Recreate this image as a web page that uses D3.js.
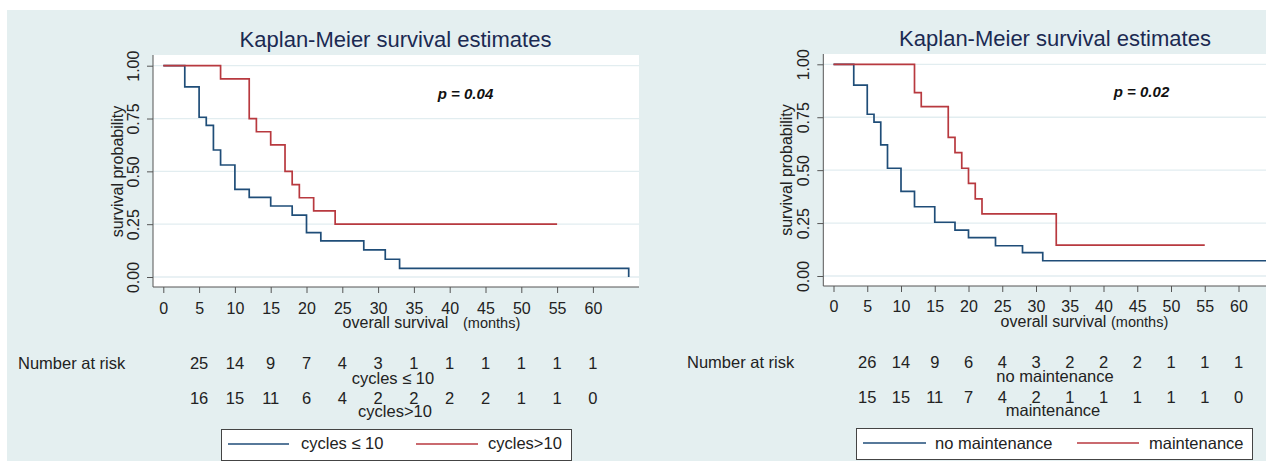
<!DOCTYPE html>
<html lang='en'>
<head>
	<meta charset='utf-8'>
	<script type='text/javascript' src='https://d3js.org/d3.v7.min.js'></script>
	<style type='text/css'>
		body{
			margin:0;
			background:#fff;
		}
		svg text{
			font-family:"Liberation Sans", Arial, sans-serif;
			fill:#222;
		}
		.title{
			font-size:22px;
			fill:#1b2a52 !important;
		}
		.axis-title{
			font-size:16px;
		}
		.tick-label{
			font-size:16px;
		}
		.risk{
			font-size:16.5px;
		}
		.pval{
			font-size:15px;
			font-weight:bold;
			font-style:italic;
			fill:#111 !important;
		}
	</style>
</head>
<body>
	<div id='chart'></div>

	<script type='text/javascript'>
		//axis ticks
		var xTicks = [0, 5, 10, 15, 20, 25, 30, 35, 40, 45, 50, 55, 60];
		var yTicks = [0, 0.25, 0.5, 0.75, 1];

		//left plot: cycles <= 10 / cycles > 10
		var lowCyclesTime = [0, 3, 5, 6, 7, 8, 10, 12, 15, 18, 20, 22, 28, 31, 33, 65];
		var lowCyclesSurv = [1, 0.90, 0.756, 0.718, 0.601, 0.530, 0.415, 0.377, 0.336, 0.293, 0.210, 0.171, 0.128, 0.084, 0.041, 0];
		var highCyclesTime = [0, 8, 12, 13, 15, 17, 18, 19, 21, 24, 55];
		var highCyclesSurv = [1, 0.9375, 0.75, 0.6875, 0.625, 0.5, 0.4375, 0.375, 0.3125, 0.25, 0.25];

		//right plot: no maintenance / maintenance
		var noMaintTime = [0, 3, 5, 6, 7, 8, 10, 12, 15, 18, 20, 24, 28, 31, 65];
		var noMaintSurv = [1, 0.902, 0.764, 0.727, 0.619, 0.509, 0.400, 0.327, 0.254, 0.217, 0.181, 0.143, 0.110, 0.072, 0.072];
		var maintTime = [0, 12, 13, 17, 18, 19, 20, 21, 22, 33, 55];
		var maintSurv = [1, 0.866, 0.800, 0.655, 0.583, 0.509, 0.438, 0.364, 0.293, 0.146, 0.146];

		//number at risk
		var riskTimes = [5, 10, 15, 20, 25, 30, 35, 40, 45, 50, 55, 60];
		var riskLowCycles = [25, 14, 9, 7, 4, 3, 1, 1, 1, 1, 1, 1];
		var riskHighCycles = [16, 15, 11, 6, 4, 2, 2, 2, 2, 1, 1, 0];
		var riskNoMaint = [26, 14, 9, 6, 4, 3, 2, 2, 2, 1, 1, 1];
		var riskMaint = [15, 15, 11, 7, 4, 2, 1, 1, 1, 1, 1, 0];

		var width = 1266,
			height = 461;

		var blue = '#1f4d78',
			red = '#b8393f';

		var svg = d3.select('#chart')
			.append('svg')
			.attr('width', width)
			.attr('height', height);

		//graph region background
		svg.append('rect')
			.attr('x', 7).attr('y', 10)
			.attr('width', width - 7).attr('height', height - 10)
			.style('fill', '#e4eff0');

		var panels = [
			{
				plot: [153, 55, 639, 287],
				xRange: [163.3, 592.9], yRange: [277, 65.7],
				titleX: 395.5, titleY: 47,
				yLabX: 117, yLabY: 171.5, yTickX: 133.3,
				xTickY: 308.3,
				xTitleX: 395.5, xTitleY: 328, monthsX: 463,
				pX: 465.5, pY: 98.5, pText: 'p = 0.04',
				riskLabX: 18, row1Y: 369.3, lab1Y: 384.3, lab1X: 393, row2Y: 404, lab2Y: 417.3, lab2X: 395,
				box: [221, 429, 571, 460], legY: 444, legTextY: 448.5,
				leg1: [228, 289, 301], leg2: [416, 478, 488],
				names: ['cycles \u2264 10', 'cycles>10'],
				series: [[lowCyclesTime, lowCyclesSurv], [highCyclesTime, highCyclesSurv]],
				risk: [riskLowCycles, riskHighCycles]
			},
			{
				plot: [823.3, 54, 1270, 286],
				xRange: [833.5, 1238.5], yRange: [276, 64.3],
				titleX: 1055, titleY: 46,
				yLabX: 786.7, yLabY: 170, yTickX: 803.3,
				xTickY: 306.7,
				xTitleX: 1053.5, xTitleY: 326.7, monthsX: 1111,
				pX: 1141.5, pY: 96.7, pText: 'p = 0.02',
				riskLabX: 687, row1Y: 367.7, lab1Y: 381.7, lab1X: 1055, row2Y: 403.3, lab2Y: 416, lab2X: 1053,
				box: [856, 428, 1252, 459], legY: 443, legTextY: 448.5,
				leg1: [863, 926, 935], leg2: [1077, 1139, 1149],
				names: ['no maintenance', 'maintenance'],
				series: [[noMaintTime, noMaintSurv], [maintTime, maintSurv]],
				risk: [riskNoMaint, riskMaint]
			}
		];

		panels.forEach(function(p){
			var x = d3.scaleLinear().domain([0, 60]).range(p.xRange);
			var y = d3.scaleLinear().domain([0, 1]).range(p.yRange);
			var g = svg.append('g');

			//title
			g.append('text')
				.attr('class', 'title')
				.attr('x', p.titleX).attr('y', p.titleY)
				.attr('text-anchor', 'middle')
				.text('Kaplan-Meier survival estimates');

			//plot region
			g.append('rect')
				.attr('x', p.plot[0]).attr('y', p.plot[1])
				.attr('width', p.plot[2] - p.plot[0]).attr('height', p.plot[3] - p.plot[1])
				.style('fill', '#fff');

			//grid
			g.selectAll('.grid')
				.data(yTicks)
				.enter()
				.append('line')
				.attr('x1', p.plot[0]).attr('x2', p.plot[2])
				.attr('y1', function(d){ return y(d); })
				.attr('y2', function(d){ return y(d); })
				.style('stroke', '#e2edf0')
				.style('stroke-width', 1.3);

			//curves
			var line = d3.line()
				.x(function(d){ return x(d[0]); })
				.y(function(d){ return y(d[1]); })
				.curve(d3.curveStepAfter);
			p.series.forEach(function(s, i){
				g.append('path')
					.datum(d3.zip(s[0], s[1]))
					.attr('d', line)
					.style('fill', 'none')
					.style('stroke', i == 0 ? blue : red)
					.style('stroke-width', 1.7);
			});

			//x axis
			var xAxis = g.append('g')
				.attr('transform', 'translate(0,' + p.plot[3] + ')')
				.call(d3.axisBottom(x).tickValues(xTicks).tickSize(6).tickSizeOuter(0).tickPadding(9));
			xAxis.select('.domain').remove();
			xAxis.selectAll('line').style('stroke', '#555');
			xAxis.selectAll('text')
				.attr('class', 'tick-label')
				.attr('y', p.xTickY - p.plot[3])
				.attr('dy', '0.35em');
			xAxis.attr('font-size', null).attr('font-family', null);
			g.append('line')
				.attr('x1', p.plot[0]).attr('x2', p.plot[2])
				.attr('y1', p.plot[3]).attr('y2', p.plot[3])
				.style('stroke', '#555');

			//y axis
			var yAxis = g.append('g')
				.attr('transform', 'translate(' + p.plot[0] + ',0)')
				.call(d3.axisLeft(y).tickValues(yTicks).tickSize(6).tickSizeOuter(0).tickFormat(d3.format('.2f')));
			yAxis.select('.domain').remove();
			yAxis.selectAll('line').style('stroke', '#555');
			yAxis.attr('font-size', null).attr('font-family', null);
			yAxis.selectAll('text')
				.attr('class', 'tick-label')
				.attr('x', null)
				.attr('dy', '0.35em')
				.attr('text-anchor', 'middle')
				.attr('transform', 'translate(' + (p.yTickX - p.plot[0]) + ',0) rotate(-90)');
			g.append('line')
				.attr('x1', p.plot[0]).attr('x2', p.plot[0])
				.attr('y1', p.plot[1]).attr('y2', p.plot[3])
				.style('stroke', '#555');

			//axis titles
			g.append('text')
				.attr('class', 'axis-title')
				.attr('text-anchor', 'middle')
				.attr('dy', '0.35em')
				.attr('transform', 'translate(' + p.yLabX + ',' + p.yLabY + ') rotate(-90)')
				.text('survival probability');
			g.append('text')
				.attr('class', 'axis-title')
				.attr('x', p.xTitleX).attr('y', p.xTitleY)
				.attr('text-anchor', 'middle')
				.text('overall survival');
			g.append('text')
				.attr('class', 'axis-title')
				.attr('x', p.monthsX).attr('y', p.xTitleY)
				.style('font-size', '14.5px')
				.text('(months)');

			//p value
			g.append('text')
				.attr('class', 'pval')
				.attr('x', p.pX).attr('y', p.pY)
				.attr('text-anchor', 'middle')
				.text(p.pText);

			//number at risk
			g.append('text')
				.attr('class', 'risk')
				.attr('x', p.riskLabX).attr('y', p.row1Y)
				.text('Number at risk');
			[p.row1Y, p.row2Y].forEach(function(rowY, i){
				g.selectAll('.risk-row' + i)
					.data(d3.zip(riskTimes, p.risk[i]))
					.enter()
					.append('text')
					.attr('class', 'risk')
					.attr('x', function(d){ return x(d[0]); })
					.attr('y', rowY)
					.attr('text-anchor', 'middle')
					.text(function(d){ return d[1]; });
			});
			g.append('text')
				.attr('class', 'risk')
				.attr('x', p.lab1X).attr('y', p.lab1Y)
				.attr('text-anchor', 'middle')
				.text(p.names[0]);
			g.append('text')
				.attr('class', 'risk')
				.attr('x', p.lab2X).attr('y', p.lab2Y)
				.attr('text-anchor', 'middle')
				.text(p.names[1]);

			//legend
			var legend = g.append('g').attr('class', 'legend');
			legend.append('rect')
				.attr('x', p.box[0] + 0.5).attr('y', p.box[1] + 0.5)
				.attr('width', p.box[2] - p.box[0]).attr('height', p.box[3] - p.box[1])
				.style('fill', '#fff')
				.style('stroke', '#444');
			[p.leg1, p.leg2].forEach(function(l, i){
				legend.append('line')
					.attr('x1', l[0]).attr('x2', l[1])
					.attr('y1', p.legY).attr('y2', p.legY)
					.style('stroke', i == 0 ? blue : red)
					.style('stroke-width', 1.5);
				legend.append('text')
					.attr('class', 'risk')
					.attr('x', l[2]).attr('y', p.legTextY)
					.text(p.names[i]);
			});
		});
	</script>
</body>
</html>
